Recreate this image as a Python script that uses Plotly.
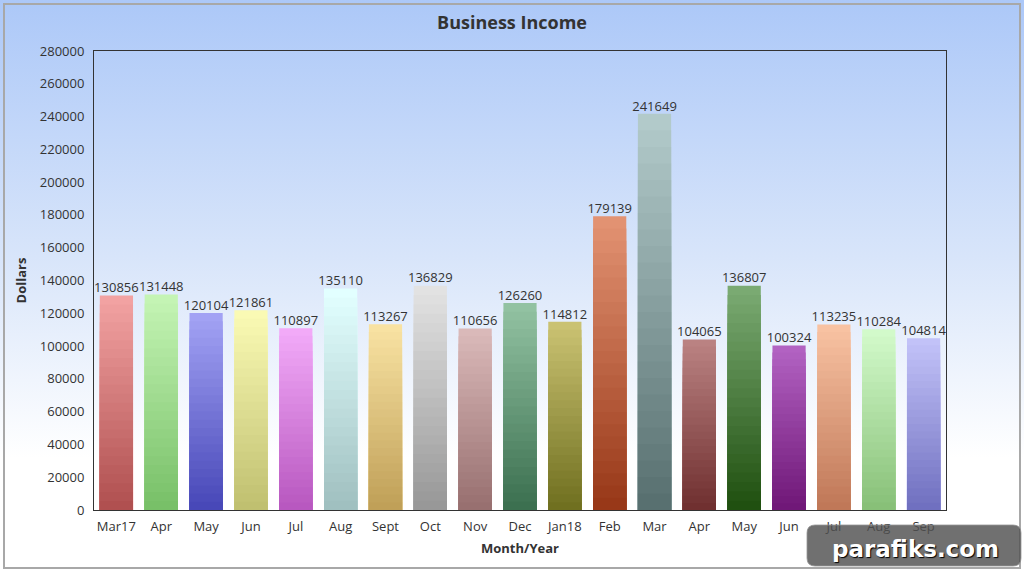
import base64
import plotly.graph_objects as go

# ---- data ----
months = ["Mar17", "Apr", "May", "Jun", "Jul", "Aug", "Sept", "Oct", "Nov", "Dec",
          "Jan18", "Feb", "Mar", "Apr", "May", "Jun", "Jul", "Aug", "Sep"]
income = [130856, 131448, 120104, 121861, 110897, 135110, 113267, 136829, 110656, 126260,
          114812, 179139, 241649, 104065, 136807, 100324, 113235, 110284, 104814]
top_colors = ["#f2a2a2", "#c4f4b4", "#a2a2f4", "#fafab4", "#f2aaf8", "#e2ffff", "#f8e2a2",
              "#e2e2e2", "#dab9b9", "#92c2a2", "#cac272", "#e29272", "#b2caca", "#ba8282",
              "#7aaa72", "#b262c2", "#f8c2a2", "#d2faca", "#c2c2f8"]
bottom_colors = ["#b05050", "#78c068", "#4848b8", "#c0c070", "#b858c0", "#a0c0c0", "#c0a058",
                 "#989898", "#987070", "#3c7050", "#707020", "#983818", "#587070", "#703030",
                 "#205010", "#701878", "#c07858", "#88c078", "#7070c0"]

W, H = 1024, 572
ML, MR, MT, MB = 94, 78, 51, 62
PW, PH = W - ML - MR, H - MT - MB


def hex2rgb(h):
    h = h.lstrip("#")
    return tuple(int(h[i:i + 2], 16) for i in (0, 2, 4))


def mix(c1, c2, t):
    a, b = hex2rgb(c1), hex2rgb(c2)
    return "rgb(%d,%d,%d)" % tuple(round(a[i] + (b[i] - a[i]) * t) for i in range(3))


x = list(range(len(months)))
N = 24
fig = go.Figure()
# gradient bars: overlaid bars of decreasing height, lighter at the top
for k in range(N):
    frac = (N - k) / N
    t = k / (N - 1)
    fig.add_trace(go.Bar(
        x=x, y=[v * frac for v in income],
        marker=dict(color=[mix(tc, bc, t) for tc, bc in zip(top_colors, bottom_colors)],
                    line=dict(width=0)),
        hoverinfo="skip" if k else "all",
        customdata=income, hovertemplate="%{customdata}<extra></extra>",
        showlegend=False, width=0.74,
    ))

fig.add_trace(go.Scatter(
    x=x, y=income, mode="text", text=[str(v) for v in income],
    textposition="top center", textfont=dict(family="Open Sans", size=13, color="#333333"),
    showlegend=False, hoverinfo="skip", cliponaxis=False,
))

svg = ('<svg xmlns="http://www.w3.org/2000/svg" width="1024" height="572" preserveAspectRatio="none">'
       '<defs><linearGradient id="g" x1="0" y1="0" x2="0" y2="1">'
       '<stop offset="0" stop-color="#acc8f8"/><stop offset="0.45" stop-color="#d8e5fa"/>'
       '<stop offset="0.8" stop-color="#ffffff"/></linearGradient></defs>'
       '<rect width="1024" height="572" fill="url(#g)"/></svg>')
src = "data:image/svg+xml;base64," + base64.b64encode(svg.encode()).decode()

# watermark box in pixel coordinates -> paper coordinates
bx0, bx1, by0, by1, r = 807, 1021, 525, 566, 8
def px(v): return (v - ML) / PW
def py(v): return 1 - (v - MT) / PH
wm_path = (f"M {px(bx0 + r)} {py(by0)} L {px(bx1 - r)} {py(by0)} "
           f"Q {px(bx1)} {py(by0)} {px(bx1)} {py(by0 + r)} L {px(bx1)} {py(by1 - r)} "
           f"Q {px(bx1)} {py(by1)} {px(bx1 - r)} {py(by1)} L {px(bx0 + r)} {py(by1)} "
           f"Q {px(bx0)} {py(by1)} {px(bx0)} {py(by1 - r)} L {px(bx0)} {py(by0 + r)} "
           f"Q {px(bx0)} {py(by0)} {px(bx0 + r)} {py(by0)} Z")

fig.update_layout(
    width=W, height=H,
    margin=dict(l=ML, r=MR, t=MT, b=MB),
    barmode="overlay",
    paper_bgcolor="#f4f4f4",
    plot_bgcolor="rgba(0,0,0,0)",
    font=dict(family="Open Sans", size=13, color="#333333"),
    title=dict(text="<b>Business Income</b>", x=0.5, xanchor="center", y=1 - 23 / H, yanchor="middle",
               font=dict(family="Open Sans", size=18, color="#333333")),
    images=[dict(source=src, xref="paper", yref="paper", x=-ML / PW, y=1 + MT / PH,
                 sizex=W / PW, sizey=H / PH, sizing="stretch", xanchor="left", yanchor="top",
                 layer="below")],
    xaxis=dict(tickvals=x, ticktext=months, range=[-0.5, len(months) - 0.5],
               showline=True, linecolor="#333333", linewidth=1, mirror=True,
               showgrid=False, zeroline=False, ticks="outside", ticklen=4,
               tickcolor="rgba(0,0,0,0)",
               tickfont=dict(size=13, color="#333333"),
               title=dict(text="<b>Month/Year</b>", standoff=10, font=dict(size=13, color="#333333"))),
    yaxis=dict(range=[0, 280000], dtick=20000, tickformat="d",
               showline=True, linecolor="#333333", linewidth=1, mirror=True,
               showgrid=False, zeroline=False, ticks="outside", ticklen=6,
               tickcolor="rgba(0,0,0,0)",
               tickfont=dict(size=13, color="#333333"),
               title=dict(text="<b>Dollars</b>", standoff=10, font=dict(size=13, color="#333333"))),
    shapes=[dict(type="rect", xref="paper", yref="paper",
                 x0=-(ML - 4) / PW, x1=1 + (MR - 4) / PW, y0=-(MB - 4) / PH, y1=1 + (MT - 4) / PH,
                 line=dict(color="#a8a8a8", width=2), layer="above"),
            dict(type="path", xref="paper", yref="paper", path=wm_path,
                 fillcolor="rgba(80,80,80,0.82)", line=dict(color="rgba(150,150,150,0.8)", width=1),
                 layer="above")],
    annotations=[dict(text="<b>parafiks.com</b>", xref="paper", yref="paper",
                      x=px((bx0 + bx1) / 2 + 1), y=py(549), xanchor="center", yanchor="middle",
                      showarrow=False,
                      font=dict(family="DejaVu Sans", size=23, color="white",
                                shadow="1px 1px 1px #000")),
                 ],
)

fig.write_html("out.html")
